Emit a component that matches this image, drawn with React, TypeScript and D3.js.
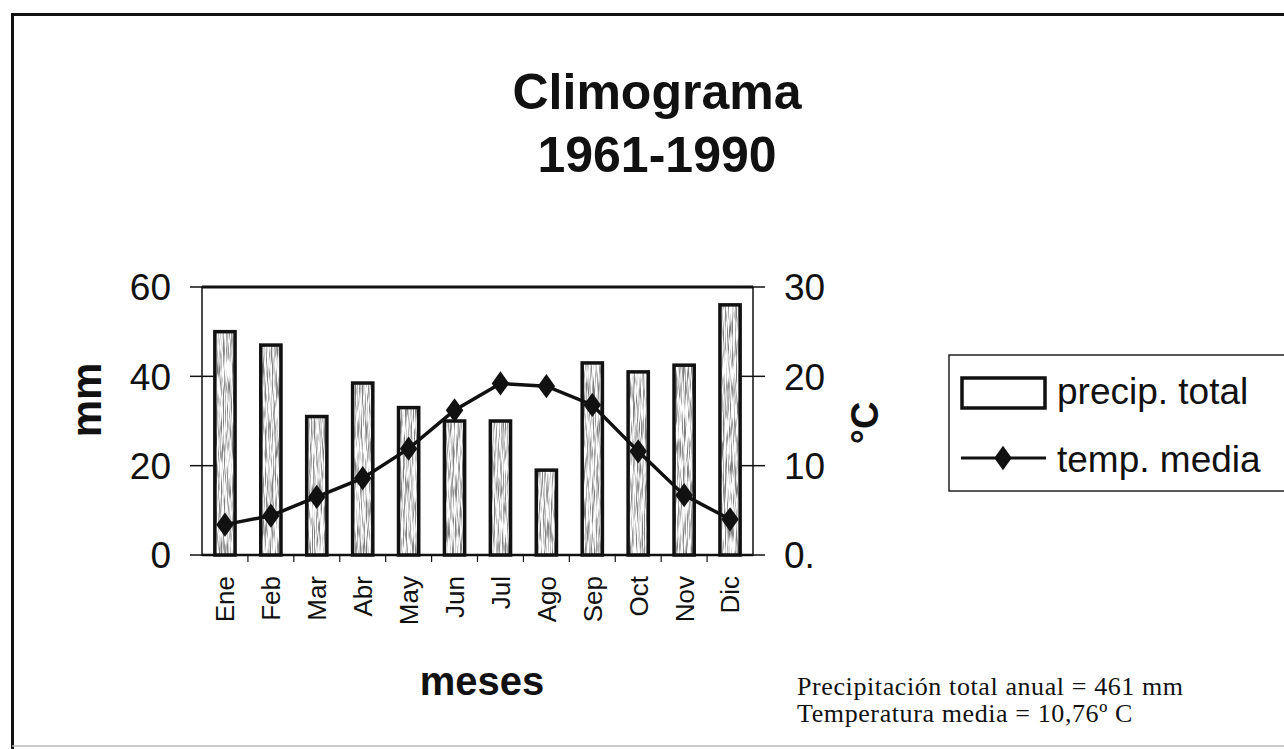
import React, { useEffect, useRef } from "react";
import * as d3 from "d3";

const months = ["Ene", "Feb", "Mar", "Abr", "May", "Jun", "Jul", "Ago", "Sep", "Oct", "Nov", "Dic"];
const precip = [50, 47, 31, 38.5, 33, 30, 30, 19, 43, 41, 42.5, 56];
const temp = [3.4, 4.4, 6.5, 8.6, 11.9, 16.2, 19.2, 18.9, 16.8, 11.6, 6.7, 4.0];
const mmTicks = [0, 20, 40, 60];
const tempTicks = [0, 10, 20, 30];
const tempTickLabels = ["0.", "10", "20", "30"];
const notes = ["Precipitación total anual = 461 mm", "Temperatura media = 10,76º C"];

const SANS = "'Liberation Sans', Arial, sans-serif";
const SERIF = "'Liberation Serif', 'Times New Roman', serif";

function Climograma() {
    const ref = useRef<SVGSVGElement>(null);

    useEffect(() => {
        const svg = d3.select(ref.current);
        svg.selectAll("*").remove();

        const W = 1284, H = 749;
        const left = 202, right = 753, top = 287, bottom = 555;

        // grainy texture for the bars (scan look)
        const defs = svg.append("defs");
        const f = defs.append("filter").attr("id", "grain")
            .attr("x", 0).attr("y", 0).attr("width", 1).attr("height", 1);
        f.append("feTurbulence").attr("type", "fractalNoise")
            .attr("baseFrequency", "0.9 0.05").attr("numOctaves", 2).attr("seed", 3).attr("result", "n");
        f.append("feColorMatrix").attr("in", "n").attr("type", "matrix")
            .attr("values", "0 0 0 0 0  0 0 0 0 0  0 0 0 0 0  0 0 0 -3.2 1.9").attr("result", "m");
        f.append("feComposite").attr("in", "m").attr("in2", "SourceGraphic").attr("operator", "in");

        svg.append("rect").attr("width", W).attr("height", H).attr("fill", "white");

        // outer frame
        svg.append("path")
            .attr("d", `M12.5,${H + 5}V14.5H${W + 5}`)
            .attr("fill", "none").attr("stroke", "#111").attr("stroke-width", 3);
        svg.append("line").attr("x1", 12).attr("x2", W).attr("y1", 746).attr("y2", 746)
            .attr("stroke", "#bbb").attr("stroke-width", 1.5);

        // title
        const title = svg.append("text").attr("text-anchor", "middle")
            .style("font-family", SANS).style("font-weight", "bold").style("font-size", "50px").attr("fill", "#111");
        title.append("tspan").attr("x", 657).attr("y", 109).text("Climograma");
        title.append("tspan").attr("x", 657).attr("y", 172).text("1961-1990");

        const x = d3.scaleBand().domain(months).range([left, right]).paddingInner(0.56).paddingOuter(0.28);
        const yP = d3.scaleLinear().domain([0, 60]).range([bottom, top]);
        const yT = d3.scaleLinear().domain([0, 30]).range([bottom, top]);

        // plot frame
        svg.append("rect").attr("x", left).attr("y", top)
            .attr("width", right - left).attr("height", bottom - top)
            .attr("fill", "none").attr("stroke", "#111").attr("stroke-width", 1.5);
        svg.append("line").attr("x1", left).attr("x2", right).attr("y1", top).attr("y2", top)
            .attr("stroke", "#111").attr("stroke-width", 3);
        svg.append("line").attr("x1", left).attr("x2", right).attr("y1", bottom).attr("y2", bottom)
            .attr("stroke", "#111").attr("stroke-width", 2.5);

        // left axis ticks (cross)
        svg.selectAll(".lt").data(mmTicks).join("line")
            .attr("x1", 190).attr("x2", 214)
            .attr("y1", d => yP(d)).attr("y2", d => yP(d))
            .attr("stroke", "#111").attr("stroke-width", 1.5);
        svg.selectAll(".ll").data(mmTicks).join("text")
            .attr("x", 171).attr("y", d => yP(d)).attr("dy", "0.36em")
            .attr("text-anchor", "end")
            .style("font-family", SANS).style("font-size", "37px").attr("fill", "#111")
            .text(d => d);

        // right axis ticks (cross)
        svg.selectAll(".rt").data(tempTicks).join("line")
            .attr("x1", 740).attr("x2", 765)
            .attr("y1", d => yT(d)).attr("y2", d => yT(d))
            .attr("stroke", "#111").attr("stroke-width", 1.5);
        svg.selectAll(".rl").data(tempTicks).join("text")
            .attr("x", 784).attr("y", d => yT(d)).attr("dy", "0.36em")
            .style("font-family", SANS).style("font-size", "37px").attr("fill", "#111")
            .text((d, i) => tempTickLabels[i]);

        // bottom ticks between categories
        const step = x.step();
        svg.selectAll(".bt").data(d3.range(1, months.length)).join("line")
            .attr("x1", d => left + d * step).attr("x2", d => left + d * step)
            .attr("y1", bottom).attr("y2", bottom + 7)
            .attr("stroke", "#111").attr("stroke-width", 1.2);

        // bars
        const bars = svg.append("g");
        bars.selectAll(".bw").data(precip).join("rect")
            .attr("x", (d, i) => x(months[i])!).attr("y", d => yP(d))
            .attr("width", x.bandwidth()).attr("height", d => bottom - yP(d))
            .attr("fill", "white");
        bars.selectAll(".bg").data(precip).join("rect")
            .attr("x", (d, i) => x(months[i])!).attr("y", d => yP(d))
            .attr("width", x.bandwidth()).attr("height", d => bottom - yP(d))
            .attr("fill", "black").attr("filter", "url(#grain)").attr("opacity", 0.5);
        bars.selectAll(".bo").data(precip).join("rect")
            .attr("x", (d, i) => x(months[i])!).attr("y", d => yP(d))
            .attr("width", x.bandwidth()).attr("height", d => bottom - yP(d))
            .attr("fill", "none").attr("stroke", "#111").attr("stroke-width", 3.5);

        // temperature line
        const cx = (i: number) => x(months[i])! + x.bandwidth() / 2;
        const line = d3.line<number>().x((d, i) => cx(i)).y(d => yT(d));
        svg.append("path").datum(temp).attr("d", line)
            .attr("fill", "none").attr("stroke", "#111").attr("stroke-width", 3.5);
        const diamond = d3.symbol().type(d3.symbolDiamond).size(170);
        svg.selectAll(".tm").data(temp).join("path")
            .attr("d", diamond)
            .attr("transform", (d, i) => `translate(${cx(i)},${yT(d)}) scale(1.25,1)`)
            .attr("fill", "#111");

        // month labels
        svg.selectAll(".ml").data(months).join("text")
            .attr("transform", d => `translate(${x(d)! + x.bandwidth() / 2},576) rotate(-90)`)
            .attr("dy", "0.36em").attr("text-anchor", "end")
            .style("font-family", SANS).style("font-size", "26px").attr("fill", "#111")
            .text(d => d);

        // axis titles
        svg.append("text").attr("transform", "translate(86,400) rotate(-90)")
            .attr("text-anchor", "middle").attr("dy", "0.36em")
            .style("font-family", SANS).style("font-weight", "bold").style("font-size", "42px").attr("fill", "#111")
            .text("mm");
        svg.append("text").attr("transform", "translate(864,423) rotate(-90)")
            .attr("text-anchor", "middle").attr("dy", "0.36em")
            .style("font-family", SANS).style("font-weight", "bold").style("font-size", "38px").attr("fill", "#111")
            .text("°C");
        svg.append("text").attr("x", 482).attr("y", 695).attr("text-anchor", "middle")
            .style("font-family", SANS).style("font-weight", "bold").style("font-size", "40px").attr("fill", "#111")
            .text("meses");

        // legend
        const lg = svg.append("g");
        lg.append("rect").attr("x", 949).attr("y", 355).attr("width", 345).attr("height", 136)
            .attr("fill", "white").attr("stroke", "#222").attr("stroke-width", 1.5);
        lg.append("rect").attr("x", 962).attr("y", 378).attr("width", 83).attr("height", 30)
            .attr("fill", "white").attr("stroke", "#111").attr("stroke-width", 3.5);
        lg.append("text").attr("x", 1057).attr("y", 404)
            .style("font-family", SANS).style("font-size", "37px").attr("fill", "#111")
            .text("precip. total");
        lg.append("line").attr("x1", 961).attr("x2", 1046).attr("y1", 458).attr("y2", 458)
            .attr("stroke", "#111").attr("stroke-width", 3);
        lg.append("path").attr("d", diamond).attr("transform", "translate(1003,458) scale(1.25,1)").attr("fill", "#111");
        lg.append("text").attr("x", 1057).attr("y", 472)
            .style("font-family", SANS).style("font-size", "37px").attr("fill", "#111")
            .text("temp. media");

        // notes
        svg.selectAll(".nt").data(notes).join("text")
            .attr("x", 797).attr("y", (d, i) => 695 + i * 27)
            .style("font-family", SERIF).style("font-size", "26px").style("letter-spacing", "0.6px")
            .attr("fill", "#111")
            .text(d => d);
    }, []);

    return <svg ref={ref} width={1284} height={749} style={{ display: "block" }}></svg>;
}

export default function App() {
    return (
        <div style={{ position: "fixed", left: 0, top: 0 }}>
            <Climograma />
        </div>
    );
}
